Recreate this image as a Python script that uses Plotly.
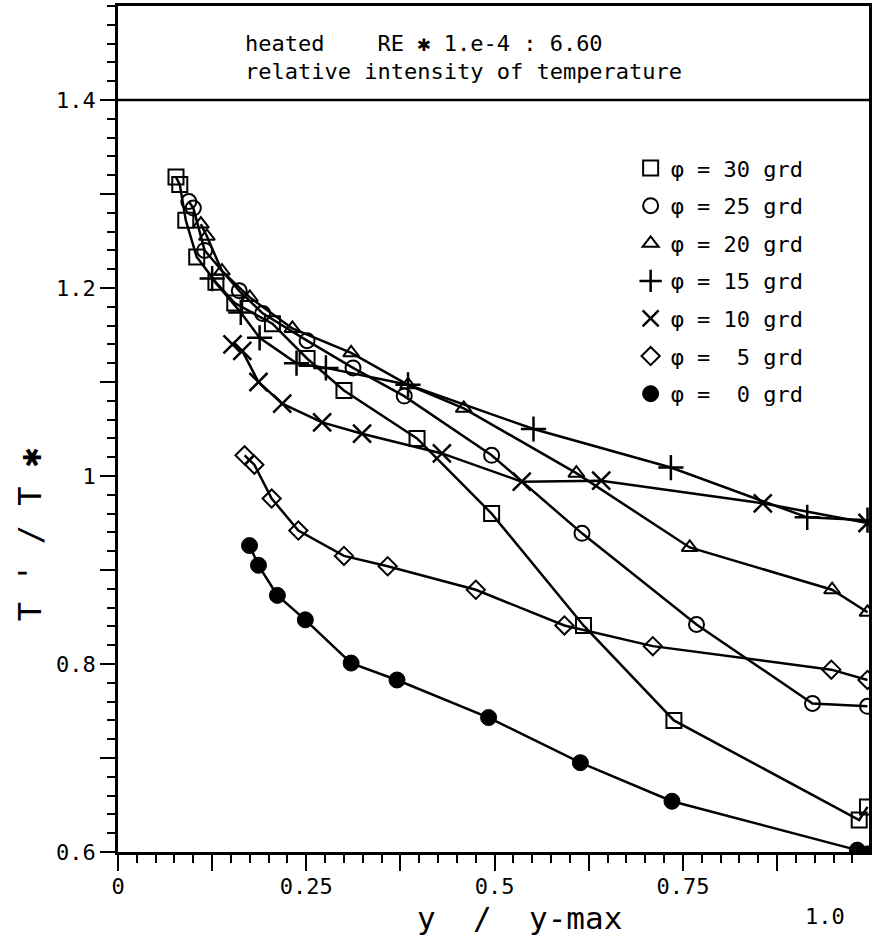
import plotly.graph_objects as go

# ---- data ----
x30 = [0.077, 0.082, 0.090, 0.1045, 0.130, 0.155, 0.205, 0.251, 0.300, 0.397, 0.496, 0.618, 0.738, 0.984, 0.995]
y30 = [1.318, 1.310, 1.272, 1.233, 1.206, 1.184, 1.162, 1.125, 1.091, 1.040, 0.960, 0.841, 0.740, 0.634, 0.648]

x25 = [0.094, 0.100, 0.115, 0.161, 0.192, 0.251, 0.312, 0.380, 0.496, 0.616, 0.768, 0.922, 0.995]
y25 = [1.292, 1.285, 1.240, 1.197, 1.173, 1.144, 1.115, 1.085, 1.022, 0.939, 0.842, 0.758, 0.755]

x20 = [0.110, 0.118, 0.138, 0.175, 0.2315, 0.3095, 0.385, 0.459, 0.6085, 0.759, 0.948, 0.995]
y20 = [1.268, 1.255, 1.218, 1.190, 1.157, 1.131, 1.097, 1.072, 1.003, 0.924, 0.879, 0.855]

x15 = [0.125, 0.163, 0.188, 0.237, 0.276, 0.385, 0.5516, 0.734, 0.915, 0.995]
y15 = [1.210, 1.174, 1.147, 1.120, 1.115, 1.097, 1.050, 1.009, 0.956, 0.953]

x10 = [0.152, 0.165, 0.1865, 0.218, 0.271, 0.324, 0.430, 0.536, 0.6415, 0.856, 0.995]
y10 = [1.140, 1.133, 1.100, 1.077, 1.057, 1.045, 1.024, 0.994, 0.995, 0.971, 0.950]

x5 = [0.168, 0.181, 0.204, 0.2394, 0.300, 0.358, 0.475, 0.5926, 0.710, 0.947, 0.995]
y5 = [1.022, 1.012, 0.976, 0.942, 0.915, 0.904, 0.879, 0.841, 0.819, 0.794, 0.783]

x0 = [0.1746, 0.1865, 0.2116, 0.2487, 0.3095, 0.3704, 0.492, 0.6138, 0.7354, 0.9815, 0.995]
y0 = [0.926, 0.905, 0.873, 0.847, 0.801, 0.783, 0.743, 0.695, 0.654, 0.602, 0.598]

angles = [30, 25, 20, 15, 10, 5, 0]
series_x = [x30, x25, x20, x15, x10, x5, x0]
series_y = [y30, y25, y20, y15, y10, y5, y0]

x_tickvals = [0, 0.125, 0.25, 0.375, 0.5, 0.625, 0.75, 0.875]
x_ticktext = ["0", "", "0.25", "", "0.5", "", "0.75", ""]
y_tickvals = [0.6, 0.7, 0.8, 0.9, 1.0, 1.1, 1.2, 1.3, 1.4]
y_ticktext = ["0.6", "", "0.8", "", "1", "", "1.2", "", "1.4"]

title_line1 = "heated    RE ✱ 1.e-4 : 6.60"
title_line2 = "relative intensity of temperature"

# ---- styles ----
markers = [
    dict(symbol="square-open", size=15, line=dict(width=2, color="black")),
    dict(symbol="circle-open", size=15, line=dict(width=2, color="black")),
    dict(symbol="triangle-up-open", size=14, line=dict(width=2, color="black")),
    dict(symbol="cross-thin-open", size=18, line=dict(width=2.5, color="black")),
    dict(symbol="x-thin-open", size=18, line=dict(width=2.5, color="black")),
    dict(symbol="diamond-open", size=14, line=dict(width=2, color="black")),
    dict(symbol="circle", size=16, line=dict(width=1, color="black")),
]

FONT = "DejaVu Sans Mono"
fig = go.Figure()

for a, xs, ys, m in zip(angles, series_x, series_y, markers):
    fig.add_trace(go.Scatter(
        x=xs, y=ys, mode="lines+markers",
        line=dict(color="black", width=2.5),
        marker=dict(color="black", **m),
        showlegend=False,
    ))

for a, m in zip(angles, markers):
    fig.add_trace(go.Scatter(
        x=[None], y=[None], mode="markers",
        marker=dict(color="black", **m),
        name=f"φ = {a:>2d} grd", legendgroup=str(a), showlegend=True,
    ))

fig.update_layout(
    width=874, height=935,
    margin=dict(l=118, r=2, t=6, b=83),
    paper_bgcolor="white", plot_bgcolor="white",
    font=dict(family=FONT, color="black", size=22),
    showlegend=True,
    legend=dict(
        x=0.6826, y=0.833, xanchor="left", yanchor="top",
        font=dict(family=FONT, size=22, color="black"),
        bgcolor="rgba(0,0,0,0)", traceorder="grouped", tracegroupgap=6,
        itemwidth=30,
    ),
    xaxis=dict(
        range=[0, 0.997], showgrid=False, zeroline=False,
        showline=True, linecolor="black", linewidth=2.5, mirror=True,
        ticks="outside", ticklen=16, tickwidth=2, tickcolor="black",
        tickvals=x_tickvals, ticktext=x_ticktext, ticklabelstandoff=-3,
        tickfont=dict(family=FONT, size=22),
        minor=dict(dtick=0.025, ticklen=8, tickwidth=2, tickcolor="black", ticks="outside"),
    ),
    yaxis=dict(
        range=[0.6, 1.5], showgrid=False, zeroline=False,
        showline=True, linecolor="black", linewidth=2.5, mirror=True,
        ticks="outside", ticklen=15, tickwidth=2, tickcolor="black",
        tickvals=y_tickvals, ticktext=y_ticktext,
        tickfont=dict(family=FONT, size=22),
        minor=dict(dtick=0.02, ticklen=8, tickwidth=2, tickcolor="black", ticks="outside"),
    ),
)

# title box separator at 1.4
fig.add_shape(type="line", xref="paper", yref="y", x0=0, x1=1, y0=1.4, y1=1.4,
              line=dict(color="black", width=2.5))

fig.add_annotation(xref="paper", yref="y", x=(243 - 118) / 754, y=1.4 + (99 - 42) / 941,
                   text=title_line1, showarrow=False, xanchor="left", yanchor="middle",
                   font=dict(family=FONT, size=22))
fig.add_annotation(xref="paper", yref="y", x=(243 - 118) / 754, y=1.4 + (99 - 70) / 941,
                   text=title_line2, showarrow=False, xanchor="left", yanchor="middle",
                   font=dict(family=FONT, size=22))

# axis titles
fig.add_annotation(xref="paper", yref="paper", x=(521 - 118) / 754, y=-(918 - 852) / 846,
                   text="y  /  y-max", showarrow=False, xanchor="center", yanchor="middle",
                   font=dict(family=FONT, size=31))
fig.add_annotation(xref="paper", yref="paper", x=(828 - 118) / 754, y=-(916 - 852) / 846,
                   text="1.0", showarrow=False, xanchor="center", yanchor="middle",
                   font=dict(family=FONT, size=22))
fig.add_annotation(xref="paper", yref="paper", x=-(118 - 30) / 754, y=(852 - 535) / 846,
                   text="T ' / T ✱", showarrow=False, textangle=-90,
                   xanchor="center", yanchor="middle",
                   font=dict(family=FONT, size=32))

fig.write_html("out.html")
